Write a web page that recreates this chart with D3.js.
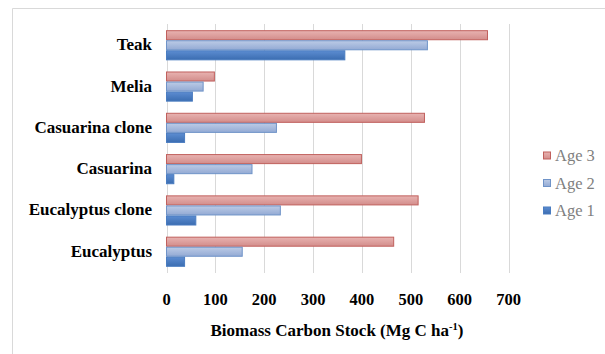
<!DOCTYPE html>
<html><head><meta charset="utf-8">
<script src="https://cdn.jsdelivr.net/npm/d3@7"></script>
<style>body{margin:0;background:#fff}svg{display:block}text{font-family:"Liberation Serif","Times New Roman","DejaVu Serif",serif}</style>
</head><body>
<script>
const categories = ["Teak","Melia","Casuarina clone","Casuarina","Eucalyptus clone","Eucalyptus"];
const seriesNames = ["Age 3","Age 2","Age 1"];
const age3 = [657, 98, 528, 399, 515, 465];
const age2 = [534, 75, 225, 175, 233, 155];
const age1 = [365, 53, 37, 15, 60, 37];
const xTicks = [0,100,200,300,400,500,600,700];
const seriesValues = [age3, age2, age1];

const W=605,H=354;
const svg=d3.select("body").append("svg").attr("width",W).attr("height",H);
const defs=svg.append("defs");
const grads=[["g3","#e8b3b1","#d38d8b"],["g2","#bccbe6","#93aad4"],["g1","#5c8cd1","#3b6db1"]];
grads.forEach(([id,a,b])=>{
  const g=defs.append("linearGradient").attr("id",id).attr("x1",0).attr("y1",0).attr("x2",0).attr("y2",1);
  g.append("stop").attr("offset","0%").attr("stop-color",a);
  g.append("stop").attr("offset","100%").attr("stop-color",b);
});
const strokes=["#c0605d","#6f93c8","#4a7cc0"];
const fills=["url(#g3)","url(#g2)","url(#g1)"];

svg.append("path").attr("d","M12.5,354 V8.5 H605").attr("fill","none").attr("stroke","#d9d9d9");

const x=d3.scaleLinear().domain([0,700]).range([166.5,508.5]);
const y=d3.scaleBand().domain(categories).range([24,273]).paddingInner(0.27).paddingOuter(0.15);
const yS=d3.scaleBand().domain(seriesNames).range([0,y.bandwidth()]);

svg.append("g").selectAll("line").data(xTicks).join("line")
  .attr("x1",d=>Math.round(x(d))+0.5).attr("x2",d=>Math.round(x(d))+0.5)
  .attr("y1",24).attr("y2",273).attr("stroke","#d9d9d9");

seriesNames.forEach((s,si)=>{
  svg.append("g").selectAll("rect").data(categories).join("rect")
    .attr("x",x(0)).attr("y",(c)=>y(c)+yS(s)+0.5)
    .attr("width",(c,i)=>x(seriesValues[si][i])-x(0))
    .attr("height",yS.bandwidth()-1)
    .attr("fill",fills[si]).attr("stroke",strokes[si]).attr("stroke-width",1);
});

svg.append("g").selectAll("text").data(categories).join("text")
  .attr("x",152).attr("y",c=>y(c)+y.bandwidth()/2+5)
  .attr("text-anchor","end").attr("font-weight","bold")
  .attr("font-size",17).attr("fill","#000").text(d=>d);

svg.append("g").selectAll("text").data(xTicks).join("text")
  .attr("x",d=>x(d)).attr("y",305).attr("text-anchor","middle")
  .attr("font-weight","bold").attr("font-size",16.5)
  .attr("fill","#000").text(d=>d);

const t=svg.append("text").attr("x",337).attr("y",336).attr("text-anchor","middle")
  .attr("font-weight","bold").attr("font-size",17).attr("fill","#000");
t.append("tspan").text("Biomass Carbon Stock (Mg C ha");
t.append("tspan").attr("dy",-6).attr("font-size",10.5).text("-1");
t.append("tspan").attr("dy",6).text(")");

const lg=svg.append("g");
seriesNames.forEach((s,i)=>{
  const cy=156+i*27.5;
  lg.append("rect").attr("x",543.5).attr("y",cy-4).attr("width",7).attr("height",7)
    .attr("fill",fills[i]).attr("stroke",strokes[i]);
  lg.append("text").attr("x",555).attr("y",cy+5)
    .attr("font-size",16.5).attr("fill","#7f7f7f").text(s);
});
</script>
</body></html>
